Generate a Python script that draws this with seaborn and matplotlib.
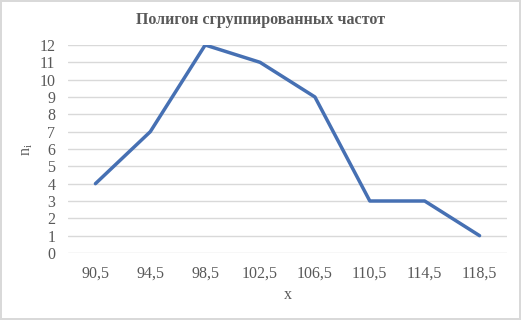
import matplotlib
matplotlib.use("Agg")
import matplotlib.pyplot as plt
import seaborn as sns
import pandas as pd

categories = ["90,5", "94,5", "98,5", "102,5", "106,5", "110,5", "114,5", "118,5"]
frequencies = [4, 7, 12, 11, 9, 3, 3, 1]
y_ticks = list(range(0, 13))

sns.set_theme(style="white")
plt.rcParams['font.family'] = ['Liberation Serif', 'DejaVu Serif']
plt.rcParams['mathtext.fontset'] = 'custom'
plt.rcParams['mathtext.rm'] = 'Liberation Serif'

df = pd.DataFrame({"x": categories, "n": frequencies})

fig = plt.figure(figsize=(5.21, 3.2), dpi=100)
fig.patch.set_facecolor("white")
fig.patch.set_edgecolor("#d9d9d9")
fig.patch.set_linewidth(1.5)
ax = fig.add_axes([68/521, 1-253/320, (507-68)/521, (253-45)/320])

sns.lineplot(data=df, x="x", y="n", sort=False, ax=ax, color="#4670b3", linewidth=2.5)

ax.set_xlim(-0.5, len(categories) - 0.5)
ax.set_ylim(0, 12)
ax.set_yticks(y_ticks)
ax.set_yticklabels([str(v) for v in y_ticks])
for s in ax.spines.values():
    s.set_visible(False)
ax.yaxis.grid(True, color="#d9d9d9", linewidth=1)
ax.xaxis.grid(False)
ax.set_axisbelow(True)
ax.tick_params(axis="both", length=0, labelsize=11.5, colors="#595959")
ax.tick_params(axis="x", pad=9)
ax.tick_params(axis="y", pad=9)

ax.set_xlabel("x", fontsize=11.5, color="#595959", labelpad=4)
ax.set_ylabel(r"n$_{\mathregular{i}}$", fontsize=11.5, color="#595959", labelpad=3)
fig.text(0.5, 1-20/320, "Полигон сгруппированных частот", ha="center", va="center",
         fontsize=11.5, fontweight="bold", color="#595959")

fig.savefig("out.png", dpi=100)
